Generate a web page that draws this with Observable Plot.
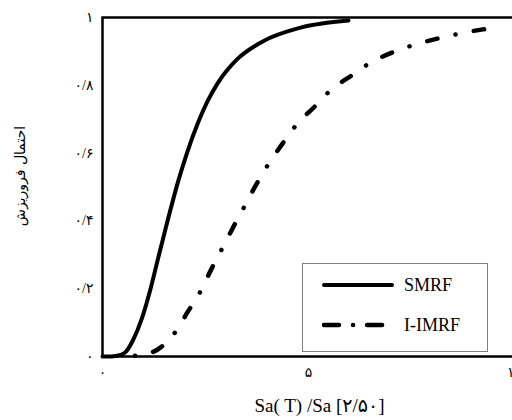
<!DOCTYPE html>
<html>
<head>
<meta charset="utf-8">
<script src="https://cdn.jsdelivr.net/npm/d3@7"></script>
<script src="https://cdn.jsdelivr.net/npm/@observablehq/plot@0.6"></script>
<style>
  html, body { margin: 0; padding: 0; background: #fff; overflow: hidden; }
  #wrap { position: relative; width: 512px; height: 420px; }
  #wrap svg.plot { position: absolute; left: 0; top: 0; }
  #legend { position: absolute; left: 302px; top: 263px; width: 186px; height: 89px;
    box-sizing: border-box; border: 1px solid #7f7f7f; background: #fff;
    font-family: "Liberation Serif", "Times New Roman", serif; font-size: 18px; color: #000; }
  .row { position: absolute; left: 19px; height: 20px; display: flex; align-items: center; }
  .row svg { display: block; }
  .row span { margin-left: 10px; line-height: 20px; }
</style>
</head>
<body>
<div id="wrap"></div>
<script>
// ---- data ----
const smrfX = [0, 0.2, 0.35, 0.55, 0.74, 0.95, 1.16, 1.35, 1.52, 1.84, 2.05, 2.32, 2.55, 2.79, 3.27, 3.90, 4.81, 5.97];
const smrfY = [0, 0, 0.002, 0.012, 0.048, 0.11, 0.197, 0.29, 0.372, 0.518, 0.60, 0.69, 0.753, 0.805, 0.877, 0.93, 0.97, 0.991];
const imrfX = [0.79, 1.05, 1.33, 1.76, 2.06, 2.37, 2.64, 2.91, 3.18, 3.47, 3.73, 4.05, 4.37, 4.73, 5.15, 5.56, 6.05, 6.51, 7.04, 7.58, 8.14, 8.70, 9.23, 9.50];
const imrfY = [0.002, 0.007, 0.02, 0.071, 0.13, 0.19, 0.257, 0.32, 0.383, 0.448, 0.507, 0.572, 0.628, 0.687, 0.737, 0.788, 0.829, 0.867, 0.897, 0.920, 0.938, 0.953, 0.965, 0.969];
const seriesNames = ["SMRF", "I-IMRF"];
const xTicks = [0, 5, 10];
const xTickLabels = ["۰", "۵", "۱۰"];
const yTicks = [0, 0.2, 0.4, 0.6, 0.8, 1];
const yTickLabels = ["۰", "۰/۲", "۰/۴", "۰/۶", "۰/۸", "۱"];
const xLabel = "Sa( T) /Sa [۲/۵۰]";
const yLabel = "احتمال فروریزش";

const smrf = smrfX.map((x, i) => ({x, y: smrfY[i]}));
const imrf = imrfX.map((x, i) => ({x, y: imrfY[i]}));

const chart = Plot.plot({
  width: 512,
  height: 420,
  marginLeft: 102,
  marginRight: -2,
  marginTop: 17,
  marginBottom: 64,
  style: {fontFamily: "'Liberation Serif', 'DejaVu Sans', serif", fontSize: "14px", background: "white", color: "black"},
  x: {domain: [0, 10], ticks: xTicks, tickFormat: d => xTickLabels[xTicks.indexOf(d)], tickSize: 0, tickPadding: 11, label: null},
  y: {domain: [0, 1], ticks: yTicks, tickFormat: d => yTickLabels[yTicks.indexOf(d)], tickSize: 0, tickPadding: 9, label: null},
  marks: [
    Plot.line(imrf, {x: "x", y: "y", curve: "monotone-x", stroke: "black", strokeWidth: 4.5,
      strokeLinecap: "round", strokeDasharray: "0.1,18.5,10.5,18.5"}),
    Plot.line(smrf, {x: "x", y: "y", curve: "monotone-x", stroke: "black", strokeWidth: 4}),
    Plot.frame({stroke: "black", strokeWidth: 2.5}),
    Plot.text([yLabel], {text: d => d, frameAnchor: "left", textAnchor: "middle", lineAnchor: "middle",
      rotate: -90, dx: -82, dy: -11, fontSize: 14, fontFamily: "'DejaVu Sans', sans-serif"}),
    Plot.text([xLabel], {text: d => d, frameAnchor: "bottom", textAnchor: "middle", lineAnchor: "middle",
      dx: 11, dy: 49, fontSize: 19})
  ]
});
chart.classList.add("plot");
const wrap = document.getElementById("wrap");
wrap.appendChild(chart);

// legend
const legend = document.createElement("div");
legend.id = "legend";
const swatches = [
  {name: seriesNames[0], top: 11, svg: '<svg width="72" height="20"><line x1="2" y1="10" x2="70" y2="10" stroke="black" stroke-width="4" stroke-linecap="round"/></svg>'},
  {name: seriesNames[1], top: 51, svg: '<svg width="72" height="20"><line x1="2" y1="10" x2="70" y2="10" stroke="black" stroke-width="4.5" stroke-linecap="round" stroke-dasharray="15,14,0.1,14"/></svg>'}
];
for (const s of swatches) {
  const row = document.createElement("div");
  row.className = "row";
  row.style.top = s.top + "px";
  row.innerHTML = s.svg + "<span>" + s.name + "</span>";
  legend.appendChild(row);
}
wrap.appendChild(legend);
</script>
</body>
</html>
